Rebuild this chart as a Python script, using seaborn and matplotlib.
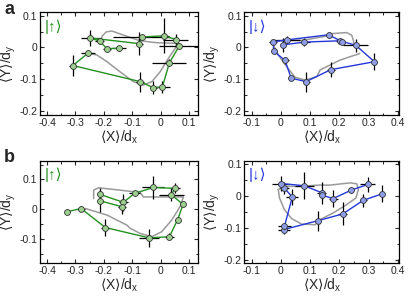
import numpy as np
import pandas as pd
import matplotlib
matplotlib.use("Agg")
import matplotlib.pyplot as plt
import seaborn as sns
from matplotlib.ticker import AutoMinorLocator

sns.set_theme(style="ticks")
plt.rcParams["font.family"] = ["Liberation Sans", "DejaVu Sans"]
plt.rcParams["axes.unicode_minus"] = False
plt.rcParams["mathtext.fontset"] = "dejavusans"

# ---- panel a, spin up (green) ----
a_up_x = [-0.145, -0.189, -0.215, -0.248, -0.075, -0.067, 0.013, 0.053, 0.065, 0.031, 0.006, -0.026, -0.072, -0.309, -0.256]
a_up_y = [-0.002, -0.004, 0.020, 0.030, 0.012, 0.033, 0.037, 0.025, 0.004, -0.048, -0.125, -0.127, -0.108, -0.057, -0.018]
a_up_xerr = [0.023, 0.015, 0.015, 0.033, 0.012, 0.10, 0.015, 0.045, 0.07, 0.06, 0.027, 0.012, 0.015, 0.014, 0.026]
a_up_yerr = [0.008, 0.005, 0.010, 0.025, 0.036, 0.010, 0.055, 0.018, 0.010, 0.010, 0.020, 0.020, 0.032, 0.032, 0.010]
a_up_theory_x = [-0.213, -0.206, -0.192, -0.172, -0.131, -0.072, -0.014, 0.057, 0.051, 0.027, -0.002, -0.031, -0.061, -0.096, -0.143, -0.189, -0.224, -0.25]
a_up_theory_y = [0.018, 0.036, 0.049, 0.052, 0.039, 0.021, 0.015, 0.013, -0.003, -0.035, -0.077, -0.108, -0.119, -0.108, -0.077, -0.045, -0.024, -0.019]

# ---- panel a, spin down (blue) ----
a_dn_x = [0.006, 0.080, 0.202, 0.256, 0.320, 0.171, 0.086, 0.035, 0.014, -0.024, -0.027, 0.021, 0.163, 0.210]
a_dn_y = [0.008, 0.017, 0.021, 0.007, -0.045, -0.070, -0.108, -0.097, -0.041, -0.012, 0.018, 0.024, 0.040, 0.018]
a_dn_xerr = [0.010, 0.018, 0.012, 0.043, 0.008, 0.015, 0.012, 0.005, 0.012, 0.010, 0.015, 0.045, 0.010, 0.010]
a_dn_yerr = [0.021, 0.012, 0.010, 0.020, 0.026, 0.024, 0.032, 0.005, 0.012, 0.010, 0.010, 0.012, 0.010, 0.008]
a_dn_theory_x = [0.270, 0.202, 0.134, 0.123, 0.083, 0.048, 0.020, -0.009, -0.026, -0.014, 0.077, 0.157, 0.179, 0.225, 0.242, 0.248, 0.250]
a_dn_theory_y = [-0.019, -0.040, -0.071, -0.092, -0.103, -0.094, -0.061, -0.024, 0.007, 0.021, 0.023, 0.036, 0.044, 0.047, 0.039, 0.023, 0.010]

# ---- panel b, spin up (green) ----
b_up_x = [-0.330, -0.280, -0.195, -0.040, 0.031, 0.060, 0.079, 0.037, 0.051, -0.026, -0.092, -0.131, -0.215, -0.213, -0.136]
b_up_y = [-0.009, 0.002, -0.062, -0.097, -0.093, -0.035, 0.016, 0.049, 0.070, 0.073, 0.053, 0.023, 0.050, 0.028, 0.008]
b_up_xerr = [0.008, 0.015, 0.015, 0.035, 0.015, 0.008, 0.008, 0.044, 0.018, 0.038, 0.020, 0.015, 0.010, 0.010, 0.015]
b_up_yerr = [0.008, 0.008, 0.028, 0.030, 0.012, 0.008, 0.008, 0.022, 0.017, 0.040, 0.010, 0.028, 0.020, 0.036, 0.025]
b_up_theory_x = [-0.236, -0.236, -0.219, -0.143, -0.072, -0.061, 0.010, 0.080, 0.068, 0.039, 0.004, -0.031, -0.072, -0.107, -0.119, -0.189, -0.265]
b_up_theory_y = [0.036, 0.064, 0.072, 0.064, 0.056, 0.041, 0.041, 0.041, 0.008, -0.037, -0.076, -0.093, -0.082, -0.065, -0.054, -0.020, 0.002]

# ---- panel b, spin down (blue) ----
b_dn_x = [0.347, 0.281, 0.212, 0.128, 0.010, 0.012, 0.039, 0.011, 0.000, 0.080, 0.140, 0.142, 0.179, 0.240, 0.297]
b_dn_y = [0.008, -0.013, -0.055, -0.076, -0.104, -0.094, -0.002, 0.026, 0.040, 0.033, 0.011, 0.003, -0.007, 0.019, 0.037]
b_dn_xerr = [0.005, 0.012, 0.015, 0.010, 0.020, 0.023, 0.020, 0.015, 0.029, 0.033, 0.015, 0.010, 0.015, 0.010, 0.026]
b_dn_yerr = [0.026, 0.020, 0.036, 0.031, 0.015, 0.012, 0.024, 0.020, 0.023, 0.042, 0.034, 0.010, 0.026, 0.008, 0.024]
b_dn_theory_x = [-0.009, -0.005, 0.012, 0.037, 0.071, 0.117, 0.134, 0.179, 0.225, 0.257, 0.265, 0.260, 0.237, 0.168, 0.128, 0.060, 0.008, -0.009]
b_dn_theory_y = [0.021, -0.005, -0.042, -0.070, -0.087, -0.089, -0.073, -0.052, -0.026, -0.005, 0.021, 0.039, 0.042, 0.035, 0.035, 0.031, 0.031, 0.021]

# tick values and labels
left_xticks = [-0.4, -0.3, -0.2, -0.1, 0.0, 0.1]
left_xlabels = ["-0.4", "-0.3", "-0.2", "-0.1", "0", "0.1"]
right_xticks = [-0.1, 0.0, 0.1, 0.2, 0.3, 0.4]
right_xlabels = ["-0.1", "0", "0.1", "0.2", "0.3", "0.4"]
yticks_full = [-0.2, -0.1, 0.0, 0.1]
ylabels_full = ["-0.2", "-0.1", "0", "0.1"]
yticks_short = [-0.1, 0.0, 0.1]
ylabels_short = ["-0.1", "0", "0.1"]

GREEN = "#23901f"
GREEN_FILL = "#9ccf8e"
BLUE = "#2336d8"
BLUE_FILL = "#8f9de6"
GRAY = "#9a9a9a"

fig = plt.figure(figsize=(4.15, 3.0), dpi=100)
axes = {
    "a_up": fig.add_axes([0.0964, 0.617, 0.381, 0.343]),
    "a_dn": fig.add_axes([0.589, 0.617, 0.373, 0.343]),
    "b_up": fig.add_axes([0.0964, 0.124, 0.381, 0.340]),
    "b_dn": fig.add_axes([0.589, 0.124, 0.373, 0.340]),
}

panels = [
    ("a_up", a_up_x, a_up_y, a_up_xerr, a_up_yerr, a_up_theory_x, a_up_theory_y, GREEN, GREEN_FILL, "|↑⟩",
     (-0.425, 0.132), (-0.213, 0.112), left_xticks, left_xlabels, yticks_full, ylabels_full),
    ("a_dn", a_dn_x, a_dn_y, a_dn_xerr, a_dn_yerr, a_dn_theory_x, a_dn_theory_y, BLUE, BLUE_FILL, "|↓⟩",
     (-0.125, 0.405), (-0.213, 0.112), right_xticks, right_xlabels, yticks_full, ylabels_full),
    ("b_up", b_up_x, b_up_y, b_up_xerr, b_up_yerr, b_up_theory_x, b_up_theory_y, GREEN, GREEN_FILL, "|↑⟩",
     (-0.425, 0.132), (-0.181, 0.163), left_xticks, left_xlabels, yticks_short, ylabels_short),
    ("b_dn", b_dn_x, b_dn_y, b_dn_xerr, b_dn_yerr, b_dn_theory_x, b_dn_theory_y, BLUE, BLUE_FILL, "|↓⟩",
     (-0.125, 0.405), (-0.208, 0.111), right_xticks, right_xlabels, yticks_full, ylabels_full),
]

for (key, xs, ys, xe, ye, tx, ty, col, fill, state, xlim, ylim, xt, xtl, yt, ytl) in panels:
    ax = axes[key]
    theory = pd.DataFrame({"x": tx, "y": ty})
    meas = pd.DataFrame({"x": xs, "y": ys, "xerr": xe, "yerr": ye})

    sns.lineplot(data=theory, x="x", y="y", sort=False, estimator=None, color=GRAY, lw=1.1, ax=ax, zorder=1)
    ax.errorbar(meas["x"], meas["y"], xerr=meas["xerr"], yerr=meas["yerr"], fmt="none",
                ecolor="black", elinewidth=0.9, capsize=0, zorder=2)
    sns.lineplot(data=meas, x="x", y="y", sort=False, estimator=None, color=col, lw=1.0, ax=ax, zorder=3)
    sns.scatterplot(data=meas, x="x", y="y", color=fill, edgecolor="#333333", linewidth=0.6, s=18, ax=ax, zorder=4)

    ax.set_xlim(*xlim)
    ax.set_ylim(*ylim)
    ax.set_xticks(xt)
    ax.set_xticklabels(xtl)
    ax.set_yticks(yt)
    ax.set_yticklabels(ytl)
    ax.xaxis.set_minor_locator(AutoMinorLocator(2))
    ax.yaxis.set_minor_locator(AutoMinorLocator(2))
    ax.tick_params(which="both", direction="in", top=True, right=True, labelsize=7.5, pad=2)
    ax.tick_params(which="major", length=3, width=0.8)
    ax.tick_params(which="minor", length=1.8, width=0.7)
    for sp in ax.spines.values():
        sp.set_linewidth(0.9)
        sp.set_color("black")
    ax.set_xlabel(r"$\langle$X$\rangle$/d$_\mathregular{x}$", fontsize=10, labelpad=1)
    ax.set_ylabel(r"$\langle$Y$\rangle$/d$_\mathregular{y}$", fontsize=10, labelpad=1)
    ax.text(0.03, 0.93, state, transform=ax.transAxes, color=col, fontsize=11, va="top", ha="left")

fig.text(0.01, 0.995, "a", fontsize=13, fontweight="bold", va="top", ha="left")
fig.text(0.01, 0.505, "b", fontsize=13, fontweight="bold", va="top", ha="left")

fig.savefig("out.png", dpi=100)
